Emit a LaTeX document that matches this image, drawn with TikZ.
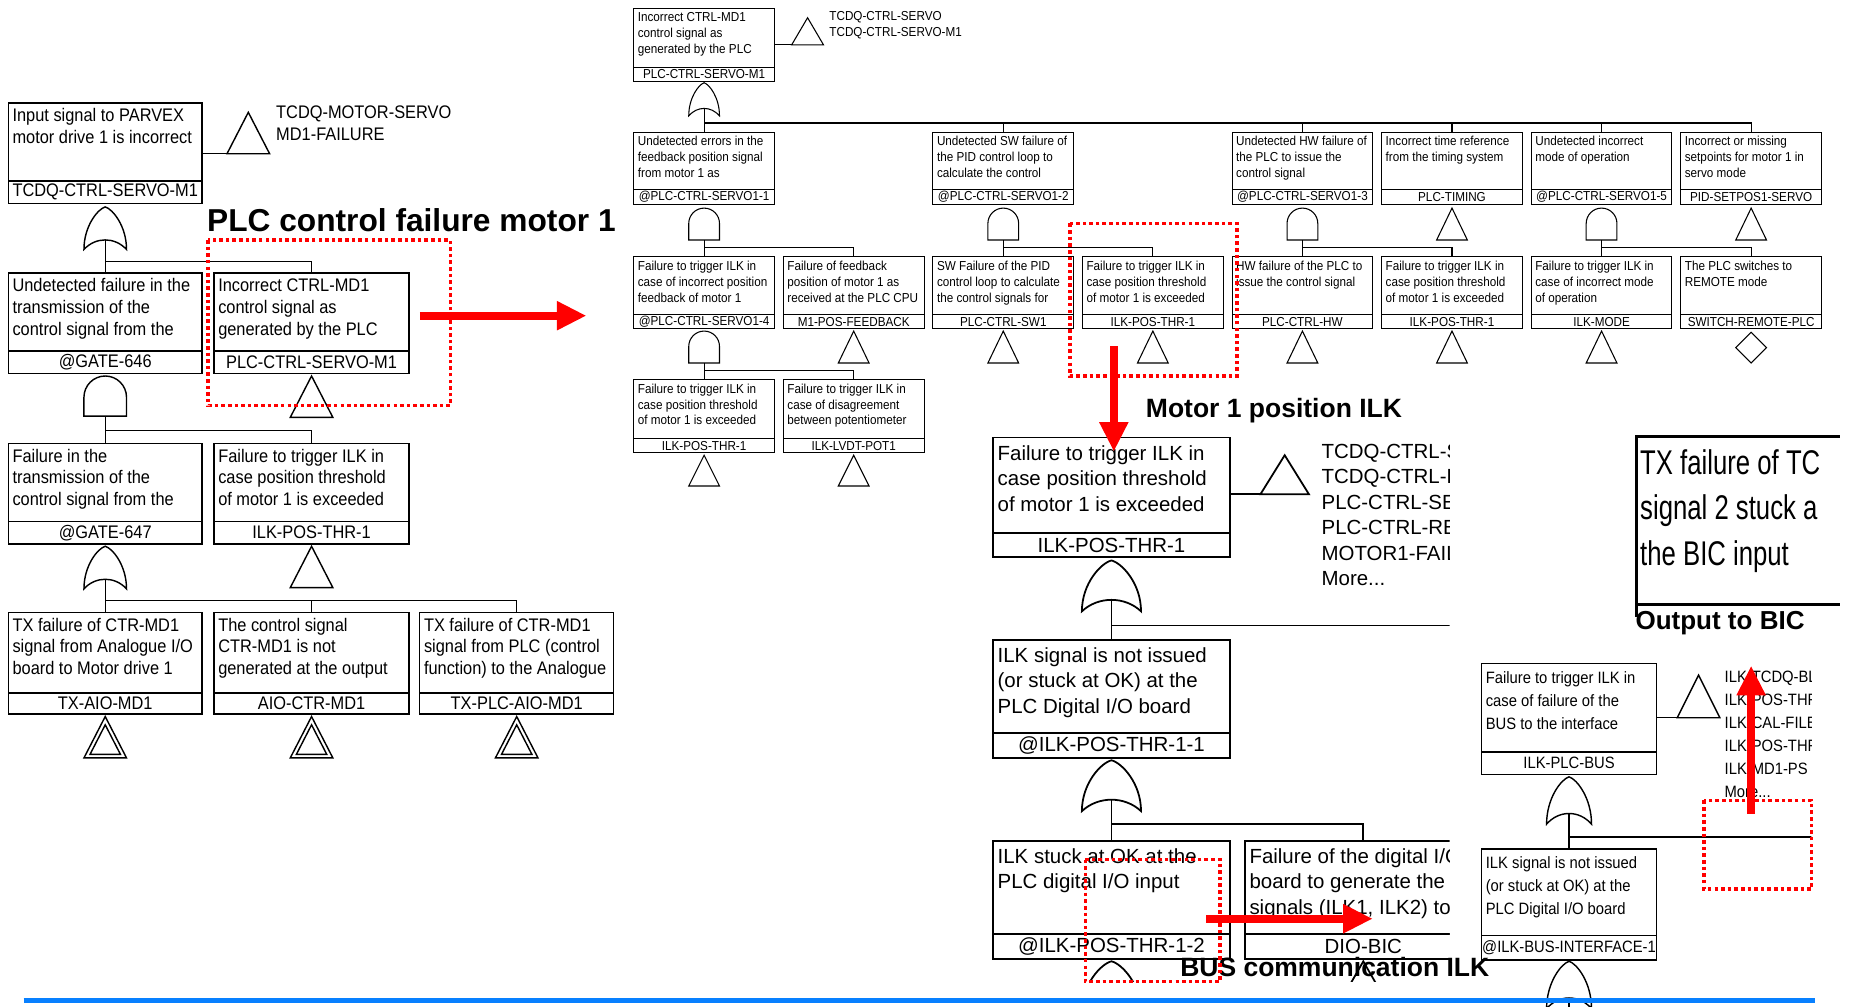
\documentclass[tikz,border=0pt]{standalone}
\usepackage{fontspec}
\setmainfont{Liberation Sans}
\newfontfamily\condfont{Liberation Sans}[FakeStretch=0.9]
\newfontfamily\narrowfont{Liberation Sans}[FakeStretch=0.75]
\usetikzlibrary{arrows.meta}
\definecolor{rulebl}{RGB}{8,128,255}

% event box: name, x, y, width, body height, label height, style, text, label
\newcommand\evt[9]{%
  \node[evbox,minimum width=#4pt,minimum height=#5pt,anchor=north west] (#1) at (#2,#3) {};
  \node[evtext,#7] (#1-t) at (#1.north west) {#8};
  \node[#7,evbox,minimum width=#4pt,minimum height=#6pt,anchor=north west] (#1-l) at (#1.south west) {#9};
}
% OR gate: name (output point), centre x, top y, half width, height
\newcommand\orgate[5]{%
  \draw[gate] ({#2-#4},{#3+#5}) .. controls ({#2-#4},{#3+0.45*#5}) and ({#2-0.35*#4},{#3+0.05*#5}) .. (#2,#3)
    .. controls ({#2+0.35*#4},{#3+0.05*#5}) and ({#2+#4},{#3+0.45*#5}) .. ({#2+#4},{#3+#5})
    .. controls ({#2+0.45*#4},{#3+0.7*#5}) and ({#2-0.45*#4},{#3+0.7*#5}) .. ({#2-#4},{#3+#5}) -- cycle;
  \coordinate (#1) at (#2,{#3+0.775*#5});
}
% AND gate: name (output point), centre x, top y, half width, height
\newcommand\andgate[5]{%
  \draw[gate] ({#2-#4},{#3+#5}) -- ({#2-#4},{#3+#4})
    .. controls ({#2-#4},{#3+0.448*#4}) and ({#2-0.552*#4},#3) .. (#2,#3)
    .. controls ({#2+0.552*#4},#3) and ({#2+#4},{#3+0.448*#4}) .. ({#2+#4},{#3+#4})
    -- ({#2+#4},{#3+#5}) -- cycle;
  \coordinate (#1) at (#2,{#3+#5});
}
% transfer triangle: name (lower left corner), apex x, apex y, half width, height
\newcommand\tri[5]{%
  \draw[gate] (#2,#3) -- ({#2+#4},{#3+#5}) -- ({#2-#4},{#3+#5}) -- cycle;
  \coordinate (#1) at ({#2-#4},{#3+#5});
}
% double-lined transfer triangle
\newcommand\dtri[5]{%
  \tri{#1}{#2}{#3}{#4}{#5}
  \draw[gate] (#2,{#3+7}) -- ({#2+#4*(#5-10)/#5},{#3+#5-3}) -- ({#2-#4*(#5-10)/#5},{#3+#5-3}) -- cycle;
}

\begin{document}
\begin{tikzpicture}[x=1pt,y=-1pt,
  evbox/.style={draw,inner sep=0pt,outer sep=0pt},
  evtext/.style={inner xsep=3pt,align=left,anchor=north west},
  fL/.style={font=\condfont\fontsize{15.4}{18.5}\selectfont,inner ysep=4pt},
  fS/.style={font=\condfont\fontsize{11}{13.5}\selectfont,inner ysep=3pt},
  fC/.style={font=\fontsize{17.3}{21.5}\selectfont,inner ysep=6pt},
  fD/.style={font=\condfont\fontsize{13.9}{19.5}\selectfont,inner ysep=6pt},
  sidelist/.style={anchor=north west,inner sep=0pt,align=left},
  gate/.style={fill=white},
  title/.style={anchor=base west,inner sep=0pt,font=\bfseries\fontsize{#1}{#1}\selectfont},
  hilite/.style={red,line width=3pt,dash pattern=on 3pt off 2.6pt},
  bigarrow/.style={red,line width=7pt,-{Triangle[length=25pt,width=23pt]}},
]
\fill[white] (0,0) rectangle (1568,851);
\useasboundingbox (0,0) rectangle (1568,851);

% ---------------- left tree ----------------
\begin{scope}[line width=1.2pt]
\evt{A1}{7}{87}{164}{66}{19}{fL}{Input signal to PARVEX\\motor drive 1 is incorrect}{TCDQ-CTRL-SERVO-M1}
\tri{tA1}{210}{95}{18}{35}
\draw (A1.east |- tA1) -- (tA1);
\node[fL,sidelist] (A1x) at (233,89) {TCDQ-MOTOR-SERVO\\MD1-FAILURE};
\orgate{gA1}{89}{175}{18}{36}
\evt{A2}{7}{231}{164}{66}{19}{fL}{Undetected failure in the\\transmission of the\\control signal from the}{@GATE-646}
\evt{A3}{181}{231}{165}{66}{19}{fL}{Incorrect CTRL-MD1\\control signal as\\generated by the PLC}{PLC-CTRL-SERVO-M1}
\coordinate (busA1) at (0,221);
\draw (gA1) -- (A2.north);
\draw (gA1 |- busA1) -| (A3.north);
\andgate{gA2}{89}{318}{18}{34}
\tri{tA3}{263.5}{318}{18}{35}
\evt{A4}{7}{375}{164}{66}{19}{fL}{Failure in the\\transmission of the\\control signal from the}{@GATE-647}
\evt{A5}{181}{375}{165}{66}{19}{fL}{Failure to trigger ILK in\\case position threshold\\of motor 1 is exceeded}{ILK-POS-THR-1}
\coordinate (busA2) at (0,364);
\draw (gA2) -- (A4.north);
\draw (gA2 |- busA2) -| (A5.north);
\orgate{gA4}{89}{462}{18}{36}
\tri{tA5}{263.5}{462}{18}{35}
\evt{A6}{7}{518}{164}{68}{18}{fL}{TX failure of CTR-MD1\\signal from Analogue I/O\\board to Motor drive 1}{TX-AIO-MD1}
\evt{A7}{181}{518}{165}{68}{18}{fL}{The control signal\\CTR-MD1 is not\\generated at the output}{AIO-CTR-MD1}
\evt{A8}{355}{518}{164}{68}{18}{fL}{TX failure of CTR-MD1\\signal from PLC (control\\function) to the Analogue}{TX-PLC-AIO-MD1}
\coordinate (busA4) at (0,508);
\draw (gA4) -- (A6.north);
\draw (gA4 |- busA4) -| (A7.north);
\draw (gA4 |- busA4) -| (A8.north);
\dtri{tA6}{89}{606}{18}{35}
\dtri{tA7}{263.5}{606}{18}{35}
\dtri{tA8}{437}{606}{18}{35}
\end{scope}

% ---------------- PLC control tree ----------------
\begin{scope}[line width=0.9pt]
\evt{B1}{536}{7}{119}{50}{12}{fS}{Incorrect CTRL-MD1\\control signal as\\generated by the PLC}{PLC-CTRL-SERVO-M1}
\tri{tB1}{683}{15}{13.5}{23}
\draw (B1.east |- tB1) -- (tB1);
\node[fS,sidelist] (B1x) at (701,9) {TCDQ-CTRL-SERVO\\TCDQ-CTRL-SERVO-M1};
\orgate{gB1}{595.5}{70}{13}{28}

\evt{r2c1}{536}{112}{119}{48}{13}{fS}{Undetected errors in the\\feedback position signal\\from motor 1 as}{@PLC-CTRL-SERVO1-1}
\evt{r2c3}{789}{112}{119}{48}{13}{fS}{Undetected SW failure of\\the PID control loop to\\calculate the control}{@PLC-CTRL-SERVO1-2}
\evt{r2c5}{1042}{112}{119}{48}{13}{fS}{Undetected HW failure of\\the PLC to issue the\\control signal}{@PLC-CTRL-SERVO1-3}
\evt{r2c6}{1168.5}{112}{119}{48}{13}{fS}{Incorrect time reference\\from the timing system}{PLC-TIMING}
\evt{r2c7}{1295}{112}{119}{48}{13}{fS}{Undetected incorrect\\mode of operation}{@PLC-CTRL-SERVO1-5}
\evt{r2c8}{1421.5}{112}{119}{48}{13}{fS}{Incorrect or missing\\setpoints for motor 1 in\\servo mode}{PID-SETPOS1-SERVO}
\coordinate (busB1) at (0,104);
\draw (gB1) -- (r2c1.north);
\foreach \n in {r2c3,r2c5,r2c6,r2c7,r2c8} \draw (gB1 |- busB1) -| (\n.north);
\draw[line width=1.6pt] (gB1 |- busB1) -- (r2c8.north |- busB1);

\andgate{g21}{595.5}{176}{13}{27}
\andgate{g23}{848.5}{176}{13}{27}
\andgate{g25}{1101.5}{176}{13}{27}
\tri{t26}{1228}{176}{13}{27}
\andgate{g27}{1354.5}{176}{13}{27}
\tri{t28}{1481}{176}{13}{27}

\evt{r3c1}{536}{217}{119}{49}{12}{fS}{Failure to trigger ILK in\\case of incorrect position\\feedback of motor 1}{@PLC-CTRL-SERVO1-4}
\evt{r3c2}{662.5}{217}{119}{49}{12}{fS}{Failure of feedback\\position of motor 1 as\\received at the PLC CPU}{M1-POS-FEEDBACK}
\evt{r3c3}{789}{217}{119}{49}{12}{fS}{SW Failure of the PID\\control loop to calculate\\the control signals for}{PLC-CTRL-SW1}
\evt{r3c4}{915.5}{217}{119}{49}{12}{fS}{Failure to trigger ILK in\\case position threshold\\of motor 1 is exceeded}{ILK-POS-THR-1}
\evt{r3c5}{1042}{217}{119}{49}{12}{fS}{HW failure of the PLC to\\issue the control signal}{PLC-CTRL-HW}
\evt{r3c6}{1168.5}{217}{119}{49}{12}{fS}{Failure to trigger ILK in\\case position threshold\\of motor 1 is exceeded}{ILK-POS-THR-1}
\evt{r3c7}{1295}{217}{119}{49}{12}{fS}{Failure to trigger ILK in\\case of incorrect mode\\of operation}{ILK-MODE}
\evt{r3c8}{1421.5}{217}{119}{49}{12}{fS}{The PLC switches to\\REMOTE mode}{SWITCH-REMOTE-PLC}
\coordinate (busB2) at (0,209);
\draw (g21) -- (r3c1.north);
\draw (g21 |- busB2) -| (r3c2.north);
\draw (g23) -- (r3c3.north);
\draw (g23 |- busB2) -| (r3c4.north);
\draw (g25) -- (r3c5.north);
\draw (g25 |- busB2) -| (r3c6.north);
\draw (g27) -- (r3c7.north);
\draw (g27 |- busB2) -| (r3c8.north);

\andgate{g31}{595.5}{280}{13}{27}
\tri{t32}{722}{280}{13}{27}
\tri{t33}{848.5}{280}{13}{27}
\tri{t34}{975}{280}{13}{27}
\tri{t35}{1101.5}{280}{13}{27}
\tri{t36}{1228}{280}{13}{27}
\tri{t37}{1354.5}{280}{13}{27}
\draw[gate] (1481,281) -- (1494,294) -- (1481,307) -- (1468,294) -- cycle;

\evt{r4c1}{536}{321}{119}{50}{12}{fS}{Failure to trigger ILK in\\case position threshold\\of motor 1 is exceeded}{ILK-POS-THR-1}
\evt{r4c2}{662.5}{321}{119}{50}{12}{fS}{Failure to trigger ILK in\\case of disagreement\\between potentiometer}{ILK-LVDT-POT1}
\coordinate (busB3) at (0,313);
\draw (g31) -- (r4c1.north);
\draw (g31 |- busB3) -| (r4c2.north);
\tri{t41}{595.5}{385}{13}{26}
\tri{t42}{722}{385}{13}{26}
\end{scope}

% ---------------- motor 1 position interlock ----------------
\begin{scope}
\clip (828,362) rectangle (1226,830);
\begin{scope}[line width=1.5pt]
\evt{C1}{840}{370}{200}{81}{20}{fC}{Failure to trigger ILK in\\case position threshold\\of motor 1 is exceeded}{ILK-POS-THR-1}
\tri{tC1}{1086.5}{385}{20.5}{33}
\draw (C1.east |- tC1) -- (tC1);
\node[fC,sidelist] (C1x) at (1117,375) {TCDQ-CTRL-S\\TCDQ-CTRL-R\\PLC-CTRL-SER\\PLC-CTRL-REM\\MOTOR1-FAIL\\More...};
\orgate{gC1}{940}{474}{25}{43}
\evt{C2}{840}{541}{200}{79}{21}{fC}{ILK signal is not issued\\(or stuck at OK) at the\\PLC Digital I/O board}{@ILK-POS-THR-1-1}
\coordinate (busC1) at (0,529);
\coordinate (C1more) at (1300,529);
\draw (gC1) -- (C2.north);
\draw (gC1 |- busC1) -- (C1more);
\orgate{gC2}{940}{643}{25}{43}
\evt{C3}{840}{711}{200}{79}{21}{fC}{ILK stuck at OK at the\\PLC digital I/O input}{@ILK-POS-THR-1-2}
\evt{C4}{1053}{711}{200}{79}{21}{fC}{Failure of the digital I/O\\board to generate the\\signals (ILK1, ILK2) to}{DIO-BIC}
\coordinate (busC2) at (0,697);
\draw (gC2) -- (C3.north);
\draw (gC2 |- busC2) -| (C4.north);
\orgate{gC3}{940}{813}{25}{43}
\tri{tC4}{1153}{813}{20}{35}
\end{scope}
\end{scope}

% ---------------- BUS interlock ----------------
\begin{scope}
\clip (1240,545) rectangle (1532,870);
\begin{scope}[line width=1.2pt]
\evt{D1}{1253}{561}{148}{75}{19}{fD}{Failure to trigger ILK in\\case of failure of the\\BUS to the interface}{ILK-PLC-BUS}
\tri{tD1}{1436.5}{571}{18}{36}
\draw (D1.east |- tD1) -- (tD1);
\node[fD,sidelist] (D1x) at (1458,567) {ILK-TCDQ-BL\\ILK-POS-THR\\ILK-CAL-FILE\\ILK-POS-THR\\ILK-MD1-PS\\More...};
\orgate{gD1}{1327}{657}{19}{40}
\evt{D2}{1253}{718}{148}{73}{21}{fD}{ILK signal is not issued\\(or stuck at OK) at the\\PLC Digital I/O board}{@ILK-BUS-INTERFACE-1}
\coordinate (busD1) at (0,708);
\coordinate (D1more) at (1600,708);
\draw (gD1) -- (D2.north);
\draw (gD1 |- busD1) -- (D1more);
\orgate{gD2}{1327}{813}{19}{40}
\coordinate (D2down) at (1327,870);
\draw (gD2) -- (D2down);
\end{scope}
\end{scope}

% ---------------- output to BIC ----------------
\begin{scope}
\clip (1370,360) rectangle (1556,540);
\node[draw,line width=2.2pt,inner sep=0pt,outer sep=0pt,minimum width=250pt,minimum height=142pt,anchor=north west] (E1) at (1384,369) {};
\node[anchor=north west,inner sep=0pt,align=left,font=\narrowfont\fontsize{29}{38.5}\selectfont] (E1-t) at (1387,380) {TX failure of TC\\signal 2 stuck a\\the BIC input};
\coordinate (E1low) at (1384,522);
\draw[line width=2.2pt] (E1.south west) -- (E1low);
\end{scope}

% ---------------- headings ----------------
\node[title=26.8] (h1) at (175,195.5) {PLC control failure motor 1};
\node[title=22.4] (h2) at (969,353) {Motor 1 position ILK};
\node[title=22.4] (h3) at (998,826) {BUS communication ILK};
\node[title=22] (h4) at (1383,532) {Output to BIC};

% ---------------- highlights ----------------
\draw[hilite] (176,203) rectangle (381,343);
\draw[hilite] (905,189) rectangle (1046,318);
\draw[hilite] (918,727) rectangle (1032,830);
\draw[hilite] (1441,677) rectangle (1532,752);

\coordinate (a1s) at (355,267);  \coordinate (a1e) at (496,267);
\coordinate (a2s) at (942,293);  \coordinate (a2e) at (942,382);
\coordinate (a3s) at (1020,777); \coordinate (a3e) at (1161,777);
\coordinate (a4s) at (1481,688); \coordinate (a4e) at (1481,563);
\draw[bigarrow] (a1s) -- (a1e);
\draw[bigarrow] (a2s) -- (a2e);
\draw[bigarrow] (a3s) -- (a3e);
\draw[bigarrow] (a4s) -- (a4e);

% ---------------- bottom rule ----------------
\coordinate (ruleL) at (20,846);
\coordinate (ruleR) at (1535,846);
\draw[rulebl,line width=4pt] (ruleL) -- (ruleR);
\end{tikzpicture}
\end{document}
